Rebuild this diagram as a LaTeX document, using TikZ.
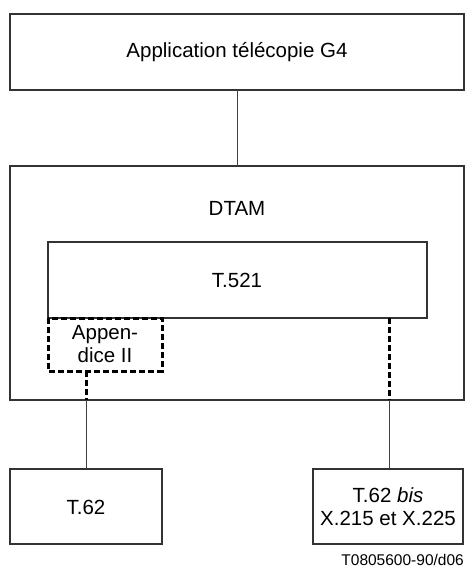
\documentclass[tikz,border=0pt]{standalone}
\usepackage{fontspec}
\setmainfont{Liberation Sans}
\begin{document}
\begin{tikzpicture}[x=1pt,y=-1pt,
  box/.style={draw=black!80,line width=1.1pt},
  conn/.style={draw=black!75,line width=1pt},
  dsh/.style={draw=black,line width=3pt,dash pattern=on 6pt off 3pt},
  txt/.style={font=\fontsize{20.5}{23}\selectfont,align=center,inner sep=0pt}]
\useasboundingbox (0,0) rectangle (465,567);
% boxes
\draw[box] (10,14) rectangle (464,90);
\node[txt] (app) at (237,52) {Application télécopie G4};
\coordinate (appb) at (237,90);
\draw[box] (10,166) rectangle (464,400);
\coordinate (dtamt) at (237,166);
\node[txt] (dtam) at (237,208) {DTAM};
\draw[box] (48,242) rectangle (427,318);
\node[txt] (t521) at (237,280) {T.521};
\draw[dsh] (48,318) rectangle (162,371);
\node[txt] (app2) at (105,344) {Appen-\\dice II};
\draw[box] (10,469) rectangle (162,544);
\node[txt] (t62) at (86,507) {T.62};
\draw[box] (313,469) rectangle (463,544);
\node[txt] (t62b) at (388,507) {T.62 \textit{bis}\\X.215 et X.225};
\node[font=\fontsize{15.5}{18}\selectfont,anchor=base east,inner sep=0pt] (lab) at (464,565) {T0805600-90/d06};
% coordinates for connectors
\coordinate (la) at (86,371);
\coordinate (lb) at (86,400);
\coordinate (lc) at (86,469);
\coordinate (ra) at (389,318);
\coordinate (rb) at (389,400);
\coordinate (rc) at (389,469);
\draw[conn] (appb) -- (dtamt);
\draw[dsh] (la) -- (lb);
\draw[conn] (lb) -- (lc);
\draw[dsh] (ra) -- (rb);
\draw[conn] (rb) -- (rc);
\end{tikzpicture}
\end{document}
